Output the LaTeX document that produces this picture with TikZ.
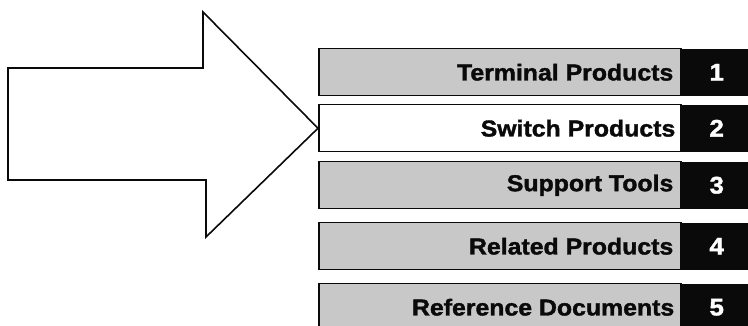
\documentclass[tikz,border=0pt]{standalone}
\usepackage{fontspec}
\newfontfamily\barfont[FakeStretch=1.08,BoldFeatures={FakeBold=1.6}]{Liberation Sans}
\usepackage{tikz}
\usetikzlibrary{calc,positioning}
\definecolor{tabGray}{HTML}{C8C8C8}
\definecolor{tabInk}{HTML}{0A0A0A}

\begin{document}
\begin{tikzpicture}[x=1pt,y=-1pt,
  bar/.style={draw=tabInk,line width=1.5pt,fill=tabGray,anchor=north west,
              minimum width=362pt,minimum height=47pt,inner sep=0pt},
  openbar/.style={bar,fill=white},
  numtab/.style={fill=tabInk,anchor=west,minimum width=70pt,minimum height=47pt,
                 inner sep=0pt,text=white,font=\barfont\bfseries\fontsize{24}{26}\selectfont},
  title/.style={anchor=east,inner sep=0pt,text=tabInk,
                font=\barfont\bfseries\fontsize{23}{25}\selectfont}]
  \useasboundingbox (0,0) rectangle (748,326);
  % the five section bars
  \node[bar]     (term) at (318,48)  {};
  \node[openbar] (swit) at (318,104) {};
  \node[bar]     (supp) at (318,161) {};
  \node[bar]     (rela) at (318,222) {};
  \node[bar]     (refd) at (318,283) {};
  % black number tabs
  \node[numtab] (n1) at (term.east) {1};
  \node[numtab] (n2) at (swit.east) {2};
  \node[numtab] (n3) at (supp.east) {3};
  \node[numtab] (n4) at (rela.east) {4};
  \node[numtab] (n5) at (refd.east) {5};
  % titles
  \node[title] (t1) at ([xshift=-8pt]term.east) {Terminal Products};
  \node[title] (t2) at ([xshift=-6pt]swit.east) {Switch Products};
  \node[title] (t3) at ([xshift=-8pt]supp.east) {Support Tools};
  \node[title] (t4) at ([xshift=-8pt]rela.east) {Related Products};
  \node[title] (t5) at ([xshift=-7pt]refd.east) {Reference Documents};
  % big arrow pointing at section 2
  \coordinate (tip) at (swit.west);
  \draw[tabInk,line width=1.6pt,line join=miter]
    (8,68) -- (203,68) -- (203,12) -- (tip) -- (206,237) -- (206,180)
    -- (8,180) -- cycle;
\end{tikzpicture}
\end{document}
